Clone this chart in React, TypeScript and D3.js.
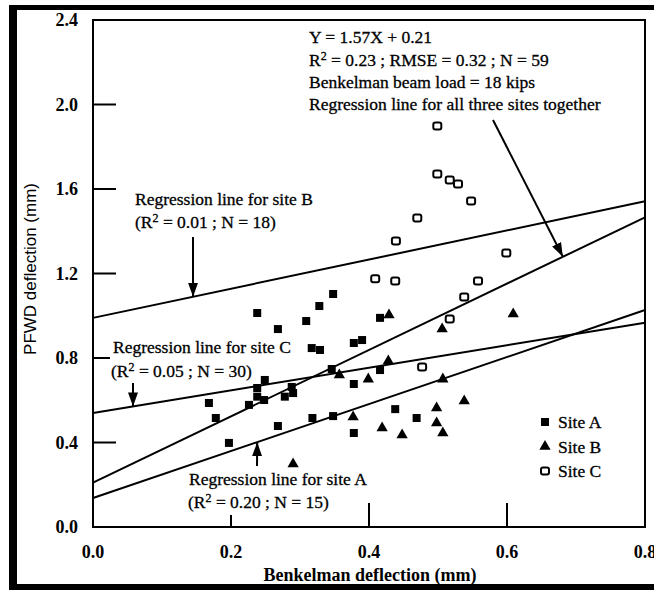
import { useRef, useEffect } from 'react';
import * as d3 from 'd3';

// readings: [Benkelman deflection, PFWD deflection] in mm
const siteA = [
  [0.348, 1.103], [0.328, 1.046], [0.238, 1.013], [0.309, 0.975], [0.268, 0.937],
  [0.416, 0.99], [0.378, 0.871], [0.39, 0.885], [0.317, 0.847], [0.329, 0.838],
  [0.346, 0.748], [0.416, 0.743], [0.249, 0.696], [0.238, 0.658], [0.238, 0.617],
  [0.248, 0.601], [0.226, 0.578], [0.168, 0.587], [0.178, 0.516], [0.278, 0.617],
  [0.288, 0.663], [0.29, 0.634], [0.378, 0.677], [0.197, 0.398], [0.268, 0.478],
  [0.318, 0.516], [0.348, 0.525], [0.378, 0.445], [0.438, 0.558], [0.469, 0.516],
];
const siteB = [
  [0.429, 1.004], [0.609, 1.008], [0.506, 0.937], [0.428, 0.786], [0.507, 0.7],
  [0.538, 0.596], [0.498, 0.563], [0.498, 0.492], [0.507, 0.445], [0.448, 0.435],
  [0.419, 0.469], [0.357, 0.72], [0.399, 0.7], [0.377, 0.521], [0.29, 0.298],
];
const siteC = [
  [0.499, 1.898], [0.499, 1.671], [0.517, 1.643], [0.529, 1.624], [0.548, 1.543],
  [0.47, 1.463], [0.439, 1.354], [0.599, 1.297], [0.438, 1.165], [0.409, 1.175],
  [0.558, 1.165], [0.538, 1.089], [0.517, 0.985], [0.477, 0.757],
];

// regression lines: intercept, slope
const lineAll = [0.21, 1.57];
const lineA = [0.137, 1.1125];
const lineB = [0.99, 0.69];
const lineC = [0.54, 0.534];

const xTicks = [0.0, 0.2, 0.4, 0.6, 0.8];
const yTicks = [0.0, 0.4, 0.8, 1.2, 1.6, 2.0, 2.4];
const legendLabels = ['Site A', 'Site B', 'Site C'];

const serif = "'Liberation Serif', 'Times New Roman', serif";

const App = () => {
  const svgRef = useRef(null);

  useEffect(() => {
    const w = 654;
    const h = 590;
    const svg = d3.select(svgRef.current);
    svg.selectAll('*').remove();
    svg.attr('width', w).attr('height', h);

    const x = d3.scaleLinear().domain([0, 0.8]).range([93, 645]);
    const y = d3.scaleLinear().domain([0, 2.4]).range([527, 20]);

    svg.append('rect').attr('width', w).attr('height', h).attr('fill', '#fff');

    // scan frame
    svg.append('rect').attr('x', 9).attr('y', 5).attr('width', w - 9).attr('height', 5).attr('fill', '#000');
    svg.append('rect').attr('x', 9).attr('y', 5).attr('width', 8).attr('height', h - 5).attr('fill', '#000');
    svg.append('rect').attr('x', 9).attr('y', 584).attr('width', w - 9).attr('height', 6).attr('fill', '#000');

    const defs = svg.append('defs');
    defs.append('marker')
      .attr('id', 'head')
      .attr('viewBox', '0 0 14 10')
      .attr('refX', 14)
      .attr('refY', 5)
      .attr('markerWidth', 14)
      .attr('markerHeight', 10)
      .attr('markerUnits', 'userSpaceOnUse')
      .attr('orient', 'auto')
      .append('path')
      .attr('d', 'M0,0 L14,5 L0,10 Z')
      .attr('fill', '#000');

    // plot box
    svg.append('rect')
      .attr('x', x(0)).attr('y', y(2.4))
      .attr('width', x(0.8) - x(0)).attr('height', y(0) - y(2.4))
      .attr('fill', 'none').attr('stroke', '#000').attr('stroke-width', 2);

    // inward ticks (two are shortened where the notes sit)
    const yInner = yTicks.filter(v => v > 0 && v < 2.4);
    svg.append('g').selectAll('line').data(yInner).enter().append('line')
      .attr('x1', x(0)).attr('x2', v => x(0) + (v === 0.8 ? 17 : 23))
      .attr('y1', v => y(v)).attr('y2', v => y(v))
      .attr('stroke', '#000').attr('stroke-width', 2);
    const xInner = xTicks.filter(v => v > 0 && v < 0.8);
    svg.append('g').selectAll('line').data(xInner).enter().append('line')
      .attr('x1', v => x(v)).attr('x2', v => x(v))
      .attr('y1', y(0)).attr('y2', v => y(0) - (v === 0.2 ? 12 : 24))
      .attr('stroke', '#000').attr('stroke-width', 2);

    // tick labels
    svg.append('g').selectAll('text').data(yTicks).enter().append('text')
      .attr('x', 78).attr('y', v => y(v)).attr('dy', '0.35em')
      .attr('text-anchor', 'end')
      .style('font-family', serif).style('font-weight', 'bold').style('font-size', '18px')
      .text(v => v.toFixed(1));
    svg.append('g').selectAll('text').data(xTicks).enter().append('text')
      .attr('x', v => x(v)).attr('y', 558)
      .attr('text-anchor', 'middle')
      .style('font-family', serif).style('font-weight', 'bold').style('font-size', '18px')
      .text(v => v.toFixed(1));

    // axis titles
    svg.append('text')
      .attr('x', 370).attr('y', 581).attr('text-anchor', 'middle')
      .style('font-family', serif).style('font-weight', 'bold').style('font-size', '18px')
      .text('Benkelman deflection (mm)');
    svg.append('text')
      .attr('transform', 'translate(36,269) rotate(-90)')
      .attr('text-anchor', 'middle')
      .style('font-family', "'Liberation Sans', Arial, sans-serif").style('font-size', '17px')
      .text('PFWD deflection (mm)');

    // regression lines
    const fit = (c, v) => c[0] + c[1] * v;
    [lineAll, lineA, lineB, lineC].forEach(c => {
      svg.append('line')
        .attr('x1', x(0)).attr('y1', y(fit(c, 0)))
        .attr('x2', x(0.8)).attr('y2', y(fit(c, 0.8)))
        .attr('stroke', '#000').attr('stroke-width', 2);
    });

    // arrows from notes to lines
    const arrows = [
      { c: lineAll, tx: 493, ty: 120, at: 0.681 },
      { c: lineB, tx: 193, ty: 237, at: 0.145 },
      { c: lineC, tx: 133, ty: 383, at: 0.058 },
      { c: lineA, tx: 257, ty: 466, at: 0.238 },
    ];
    arrows.forEach(a => {
      svg.append('line')
        .attr('x1', a.tx).attr('y1', a.ty)
        .attr('x2', x(a.at)).attr('y2', y(fit(a.c, a.at)))
        .attr('stroke', '#000').attr('stroke-width', 2)
        .attr('marker-end', 'url(#head)');
    });

    // points
    svg.append('g').selectAll('rect').data(siteA).enter().append('rect')
      .attr('x', d => x(d[0]) - 4).attr('y', d => y(d[1]) - 4)
      .attr('width', 8).attr('height', 8).attr('fill', '#000');
    const tri = d3.symbol().type(d3.symbolTriangle).size(55);
    svg.append('g').selectAll('path').data(siteB).enter().append('path')
      .attr('transform', d => `translate(${x(d[0])},${y(d[1])})`)
      .attr('d', tri).attr('fill', '#000');
    svg.append('g').selectAll('rect').data(siteC).enter().append('rect')
      .attr('x', d => x(d[0]) - 4).attr('y', d => y(d[1]) - 3.5)
      .attr('width', 8).attr('height', 7).attr('rx', 2)
      .attr('fill', '#fff').attr('stroke', '#000').attr('stroke-width', 2);

    // notes; '^' marks the superscript 2
    const note = (tx, ty, str) => {
      const t = svg.append('text').attr('x', tx).attr('y', ty)
        .style('font-family', serif).style('font-size', '17.5px')
        .attr('stroke', '#000').attr('stroke-width', 0.3);
      const bits = str.split('^');
      t.append('tspan').text(bits[0]);
      if (bits.length > 1) {
        t.append('tspan').attr('dy', -6).style('font-size', '12px').text('2');
        t.append('tspan').attr('dy', 6).text(bits[1]);
      }
    };
    note(309, 43, 'Y = 1.57X + 0.21');
    note(309, 66, 'R^ = 0.23 ; RMSE = 0.32 ; N = 59');
    note(309, 88, 'Benkelman beam load = 18 kips');
    note(309, 110, 'Regression line for all three sites together');
    note(135, 205, 'Regression line for site B');
    note(135, 228, '(R^ = 0.01 ; N = 18)');
    note(113, 353, 'Regression line for site C');
    note(111, 377, '(R^ = 0.05 ; N = 30)');
    note(189, 485, 'Regression line for site A');
    note(188, 508, '(R^ = 0.20 ; N = 15)');

    // legend
    const lg = svg.append('g').selectAll('g').data(legendLabels).enter().append('g')
      .attr('transform', (d, i) => `translate(545,${422 + i * 24.5})`);
    lg.filter((d, i) => i === 0).append('rect')
      .attr('x', -4).attr('y', -4).attr('width', 8).attr('height', 8).attr('fill', '#000');
    lg.filter((d, i) => i === 1).append('path').attr('d', tri).attr('fill', '#000');
    lg.filter((d, i) => i === 2).append('rect')
      .attr('x', -4).attr('y', -3.5).attr('width', 8).attr('height', 7).attr('rx', 2)
      .attr('fill', '#fff').attr('stroke', '#000').attr('stroke-width', 2);
    lg.append('text')
      .attr('x', 13).attr('y', 6)
      .style('font-family', serif).style('font-size', '17.5px')
      .attr('stroke', '#000').attr('stroke-width', 0.3)
      .text(d => d);
  }, []);

  return (
    <div style={{ position: 'absolute', left: 0, top: 0 }}>
      <svg ref={svgRef} style={{ display: 'block' }}></svg>
    </div>
  );
};

export default App;
